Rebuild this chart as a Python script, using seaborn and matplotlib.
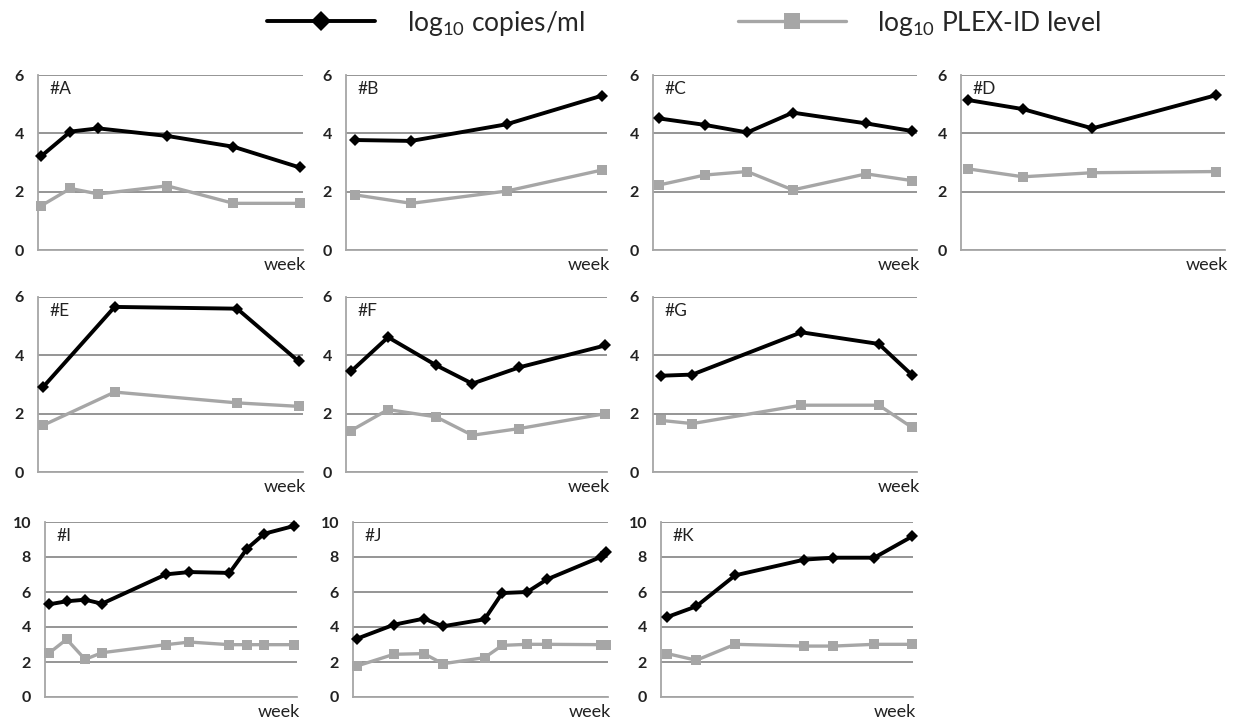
import numpy as np
import pandas as pd
import matplotlib
matplotlib.use("Agg")
import matplotlib.pyplot as plt
import seaborn as sns

# values (x in tick-interval units)
panels = ['#A', '#B', '#C', '#D', '#E', '#F', '#G', '#I', '#J', '#K']

A_x = [0.05, 0.49, 0.91, 1.95, 2.95, 3.95]
A_copies = [3.22, 4.06, 4.17, 3.91, 3.54, 2.83]
A_plex = [1.52, 2.11, 1.92, 2.20, 1.60, 1.60]

B_x = [0.07, 0.50, 1.23, 1.96]
B_copies = [3.77, 3.74, 4.31, 5.29]
B_plex = [1.89, 1.60, 2.02, 2.74]

C_x = [0.06, 0.50, 0.91, 1.35, 2.06, 2.50]
C_copies = [4.51, 4.29, 4.03, 4.71, 4.34, 4.08]
C_plex = [2.23, 2.57, 2.69, 2.06, 2.61, 2.38]

D_x = [0.06, 0.50, 1.06, 2.06]
D_copies = [5.14, 4.83, 4.17, 5.31]
D_plex = [2.78, 2.51, 2.65, 2.69]

E_x = [0.07, 1.07, 2.78, 3.64]
E_copies = [2.91, 5.66, 5.60, 3.79]
E_plex = [1.60, 2.74, 2.37, 2.25]

F_x = [0.06, 0.50, 1.07, 1.50, 2.06, 3.08]
F_copies = [3.45, 4.62, 3.66, 3.03, 3.59, 4.34]
F_plex = [1.42, 2.14, 1.89, 1.26, 1.49, 2.00]

G_x = [0.07, 0.36, 1.36, 2.07, 2.37]
G_copies = [3.30, 3.34, 4.79, 4.39, 3.34]
G_plex = [1.77, 1.66, 2.29, 2.29, 1.54]

I_x = [0.11, 0.53, 0.98, 1.39, 2.96, 3.53, 4.51, 4.94, 5.36, 6.08]
I_copies = [5.30, 5.47, 5.56, 5.33, 7.01, 7.14, 7.09, 8.48, 9.33, 9.77]
I_plex = [2.53, 3.30, 2.15, 2.53, 2.99, 3.14, 2.99, 2.99, 2.99, 2.99]

J_x = [0.09, 0.95, 1.65, 2.09, 3.06, 3.47, 4.05, 4.51, 5.76, 5.89]
J_copies = [3.33, 4.13, 4.48, 4.04, 4.44, 5.94, 6.00, 6.72, 8.00, 8.29]
J_plex = [1.77, 2.44, 2.48, 1.90, 2.25, 2.95, 3.01, 3.01, 2.99, 2.99]

K_x = [0.09, 0.51, 1.07, 2.07, 2.49, 3.08, 3.63]
K_copies = [4.57, 5.18, 6.95, 7.85, 7.96, 7.96, 9.18]
K_plex = [2.48, 2.10, 3.01, 2.91, 2.91, 3.01, 3.01]

xs = [A_x, B_x, C_x, D_x, E_x, F_x, G_x, I_x, J_x, K_x]
copies = [A_copies, B_copies, C_copies, D_copies, E_copies, F_copies, G_copies,
          I_copies, J_copies, K_copies]
plex = [A_plex, B_plex, C_plex, D_plex, E_plex, F_plex, G_plex, I_plex, J_plex, K_plex]

# layout: axes boxes in pixels (left, right, top, bottom) and x range end
boxes = [(38, 303, 75, 250), (346, 607, 75, 250), (653, 917, 75, 250), (961, 1225, 75, 250),
         (38, 303, 297, 472), (346, 607, 297, 472), (653, 917, 297, 472),
         (45, 297, 522, 697), (353, 608, 522, 697), (661, 913, 522, 697)]
xmax = [4.0, 2.0, 2.55, 2.13, 3.7, 3.1, 2.42, 6.16, 5.93, 3.64]
ymax = [6, 6, 6, 6, 6, 6, 6, 10, 10, 10]

sns.set_style("white")
plt.rcParams['font.family'] = ['Lato', 'DejaVu Sans']
plt.rcParams['mathtext.default'] = 'regular'

W, H = 1233, 718
fig = plt.figure(figsize=(W / 100, H / 100), dpi=100)

grid_c = '#8c8c8c'
lab_copies = r'log$_{10}$ copies/ml'
lab_plex = r'log$_{10}$ PLEX-ID level'

first_ax = None
for i, name in enumerate(panels):
    l, r, t, b = boxes[i]
    ax = fig.add_axes([l / W, 1 - b / H, (r - l) / W, (b - t) / H])
    df = pd.DataFrame({
        'x': xs[i] + xs[i],
        'y': plex[i] + copies[i],
        'series': [lab_plex] * len(xs[i]) + [lab_copies] * len(xs[i]),
    })
    sns.lineplot(data=df[df.series == lab_plex], x='x', y='y', ax=ax, sort=False,
                 color='#a6a6a6', lw=2.4, marker='s', markersize=7.5,
                 markeredgewidth=0, label=lab_plex, zorder=3)
    sns.lineplot(data=df[df.series == lab_copies], x='x', y='y', ax=ax, sort=False,
                 color='black', lw=2.8, marker='D', markersize=6.5,
                 markeredgewidth=0, label=lab_copies, zorder=4)
    if first_ax is None:
        first_ax = ax
    ax.get_legend().remove()

    yt = np.arange(0, ymax[i] + 1, 2)
    ax.set_xlim(0, xmax[i])
    ax.set_ylim(0, ymax[i])
    ax.set_yticks(yt)
    ax.set_yticklabels([str(v) for v in yt], fontweight='bold', color='#222222',
                       fontsize=11.5)
    ax.set_xticks(np.arange(0, int(np.floor(xmax[i] - 0.05)) + 1))
    ax.set_xticklabels([])
    ax.set_xlabel('')
    ax.set_ylabel('')
    ax.yaxis.grid(True, color=grid_c, lw=1.3)
    ax.set_axisbelow(True)
    for s in ['top', 'right']:
        ax.spines[s].set_visible(False)
    for s in ['left', 'bottom']:
        ax.spines[s].set_color('#a6a6a6')
        ax.spines[s].set_linewidth(1.3)
    ax.tick_params(axis='both', direction='out', length=5, width=1.3, color=grid_c,
                   pad=5)
    for ln in ax.lines:
        ln.set_clip_on(False)
    ax.text(0.045, 0.965, name, transform=ax.transAxes, ha='left', va='top',
            fontsize=12.5, color='#222222')
    ax.text(1.01, -0.04, 'week', transform=ax.transAxes, ha='right', va='top',
            fontsize=13, color='#222222')

handles, labels = first_ax.get_legend_handles_labels()
order = [labels.index(lab_copies), labels.index(lab_plex)]
fig.legend([handles[k] for k in order], [labels[k] for k in order],
           loc='center', bbox_to_anchor=(684 / W, 1 - 23 / H), ncol=2, frameon=False,
           fontsize=19, handlelength=4.1, columnspacing=5.8, handletextpad=1.2,
           markerscale=1.5)

fig.savefig('out.png', dpi=100)
